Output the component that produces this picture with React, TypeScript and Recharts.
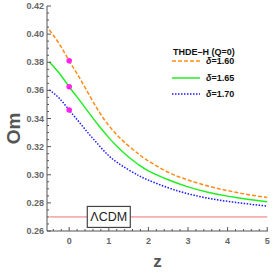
import React from "react";
import {
  ComposedChart,
  Line,
  Scatter,
  XAxis,
  YAxis,
  ReferenceLine,
  ReferenceDot,
  Label,
} from "recharts";

// ── Data ────────────────────────────────────────────────────────────

const Z = [-0.5, -0.25, 0, 0.25, 0.5, 0.75, 1, 1.25, 1.5, 1.75, 2, 2.5, 3, 3.5, 4, 4.5, 5];
const D160 = [0.403, 0.393, 0.381, 0.3695, 0.357, 0.345, 0.335, 0.327, 0.3205, 0.3148, 0.3098, 0.3018, 0.2963, 0.292, 0.2887, 0.286, 0.2838];
const D165 = [0.3802, 0.3722, 0.3626, 0.3534, 0.344, 0.3348, 0.3264, 0.319, 0.3126, 0.3072, 0.3027, 0.2964, 0.2914, 0.2876, 0.2848, 0.2826, 0.2808];
const D170 = [0.3603, 0.3544, 0.346, 0.3375, 0.329, 0.321, 0.3135, 0.308, 0.3035, 0.2995, 0.2962, 0.2907, 0.2865, 0.2833, 0.2811, 0.2793, 0.2777];

const DOTS = [
  { z: 0, om: 0.381 },
  { z: 0, om: 0.3626 },
  { z: 0, om: 0.346 },
];

const LCDM = 0.27;

const X_TICKS = [-0.4, -0.2, 0, 0.2, 0.4, 0.6, 0.8, 1, 1.2, 1.4, 1.6, 1.8, 2, 2.2, 2.4, 2.6, 2.8, 3, 3.2, 3.4, 3.6, 3.8, 4, 4.2, 4.4, 4.6, 4.8, 5];
const Y_TICKS = [
  0.26, 0.265, 0.27, 0.275, 0.28, 0.285, 0.29, 0.295, 0.3, 0.305, 0.31, 0.315, 0.32, 0.325, 0.33, 0.335,
  0.34, 0.345, 0.35, 0.355, 0.36, 0.365, 0.37, 0.375, 0.38, 0.385, 0.39, 0.395, 0.4, 0.405, 0.41, 0.415, 0.42,
];

const rows = Z.map((z, i) => ({ z, a: D160[i], b: D165[i], c: D170[i] }));

// ── Styling ─────────────────────────────────────────────────────────

const FRAME = "#555555";
const TICK_TEXT = "#666666";
const FONT = "'Liberation Sans', Arial, sans-serif";
const ORANGE = "#ff8c1a";
const GREEN = "#22ee22";
const BLUE = "#1a1aff";

const isMajorX = (v: number) => Math.abs(v - Math.round(v)) < 1e-6;
const isMajorY = (v: number) => Math.abs(v * 50 - Math.round(v * 50)) < 1e-6;

function BottomTick({ x, y, payload }: any) {
  const major = isMajorX(payload.value);
  return (
    <g>
      <line x1={x} x2={x} y1={y} y2={y - (major ? 4 : 2)} stroke={FRAME} />
      {major && (
        <text x={x} y={y + 13} textAnchor="middle" fontSize={9} fontWeight="bold" fill={TICK_TEXT} fontFamily={FONT}>
          {payload.value}
        </text>
      )}
    </g>
  );
}

function TopTick({ x, y, payload }: any) {
  const major = isMajorX(payload.value);
  return <line x1={x} x2={x} y1={y} y2={y + (major ? 4 : 2)} stroke={FRAME} />;
}

function LeftTick({ x, y, payload }: any) {
  const major = isMajorY(payload.value);
  return (
    <g>
      <line x1={x} x2={x + (major ? 4 : 2)} y1={y} y2={y} stroke={FRAME} />
      {major && (
        <text x={x - 3} y={y + 3} textAnchor="end" fontSize={9} fontWeight="bold" fill={TICK_TEXT} fontFamily={FONT}>
          {payload.value.toFixed(2)}
        </text>
      )}
    </g>
  );
}

function RightTick({ x, y, payload }: any) {
  const major = isMajorY(payload.value);
  return <line x1={x} x2={x - (major ? 4 : 2)} y1={y} y2={y} stroke={FRAME} />;
}

function LcdmBox({ cx, cy }: any) {
  return (
    <g>
      <rect x={cx - 21.5} y={cy - 10.5} width={43} height={21} fill="#ffffff" stroke="#444444" strokeWidth={1.2} />
      <text x={cx} y={cy + 4.5} textAnchor="middle" fontSize={12.5} fill="#222222" fontFamily={FONT}>
        ΛCDM
      </text>
    </g>
  );
}

function OmLabel({ viewBox }: any) {
  const cy = viewBox.y + viewBox.height / 2 + 10;
  const cx = 13;
  return (
    <text
      x={cx}
      y={cy}
      transform={`rotate(-90 ${cx} ${cy})`}
      dy={7}
      textAnchor="middle"
      fontSize={19}
      fontWeight="bold"
      fill={FRAME}
      fontFamily={FONT}
    >
      Om
    </text>
  );
}

function LegendBox() {
  const item = (label: string, color: string, dash: string | undefined, top: number) => (
    <div style={{ position: "absolute", left: 0, top, display: "flex", alignItems: "center" }}>
      <svg width={32} height={6}>
        <line x1={1} x2={29} y1={3} y2={3} stroke={color} strokeWidth={1.5} strokeDasharray={dash} />
      </svg>
      <span style={{ marginLeft: 3, fontSize: 9, fontWeight: "bold", fontFamily: FONT, color: "#111" }}>
        <i>δ</i>=<span>{label}</span>
      </span>
    </div>
  );
  return (
    <div style={{ position: "absolute", left: 171, top: 45, width: 80, height: 60, fontFamily: FONT }}>
      <div style={{ position: "absolute", left: 2, top: 2, fontSize: 9, fontWeight: "bold", color: "#111", whiteSpace: "nowrap" }}>
        THDE–H (Q=0)
      </div>
      {item("1.60", ORANGE, "4 2", 11)}
      {item("1.65", GREEN, undefined, 28)}
      {item("1.70", BLUE, "1.5 1.5", 44)}
    </div>
  );
}

export default function App() {
  return (
    <div style={{ position: "relative", width: 273, height: 273, background: "#ffffff" }}>
      <style>{`body{margin:0}`}</style>
      <ComposedChart width={273} height={273} data={rows} margin={{ top: 6, right: 5, bottom: 0, left: 0 }}>
        <XAxis
          dataKey="z"
          type="number"
          domain={[-0.56, 5.02]}
          ticks={X_TICKS}
          interval={0}
          tickSize={0}
          tickMargin={0}
          height={42}
          axisLine={{ stroke: FRAME }}
          tickLine={false}
          tick={<BottomTick />}
        >
          <Label
            value="z"
            position="insideBottom"
            offset={6}
            style={{ fontSize: 17, fontWeight: "bold", fill: FRAME, fontFamily: FONT }}
          />
        </XAxis>
        <XAxis
          xAxisId="top"
          orientation="top"
          type="number"
          domain={[-0.56, 5.02]}
          ticks={X_TICKS}
          interval={0}
          tickSize={0}
          tickMargin={0}
          height={0}
          axisLine={{ stroke: FRAME }}
          tickLine={false}
          tick={<TopTick />}
        />
        <YAxis
          type="number"
          domain={[0.26, 0.42]}
          ticks={Y_TICKS}
          interval={0}
          tickSize={0}
          tickMargin={0}
          width={47}
          axisLine={{ stroke: FRAME }}
          tickLine={false}
          tick={<LeftTick />}
        >
          <Label content={<OmLabel />} />
        </YAxis>
        <YAxis
          yAxisId="right"
          orientation="right"
          type="number"
          domain={[0.26, 0.42]}
          ticks={Y_TICKS}
          interval={0}
          tickSize={0}
          tickMargin={0}
          width={0}
          axisLine={{ stroke: FRAME }}
          tickLine={false}
          tick={<RightTick />}
        />
        <ReferenceLine
          segment={[
            { x: -0.5, y: LCDM },
            { x: 5, y: LCDM },
          ]}
          stroke="#f07070"
          strokeWidth={1}
        />
        <Line type="natural" dataKey="a" stroke={ORANGE} strokeWidth={1.5} strokeDasharray="4 2" dot={false} isAnimationActive={false} />
        <Line type="natural" dataKey="b" stroke={GREEN} strokeWidth={1.5} dot={false} isAnimationActive={false} />
        <Line type="natural" dataKey="c" stroke={BLUE} strokeWidth={1.5} strokeDasharray="1.5 1.5" dot={false} isAnimationActive={false} />
        <Scatter data={DOTS} dataKey="om" fill="#ff00ff" isAnimationActive={false} shape={(p: any) => <circle cx={p.cx} cy={p.cy} r={2.8} fill="#ff22ee" />} />
        <ReferenceDot x={1} y={LCDM} r={0} shape={<LcdmBox />} />
      </ComposedChart>
      <LegendBox />
    </div>
  );
}
